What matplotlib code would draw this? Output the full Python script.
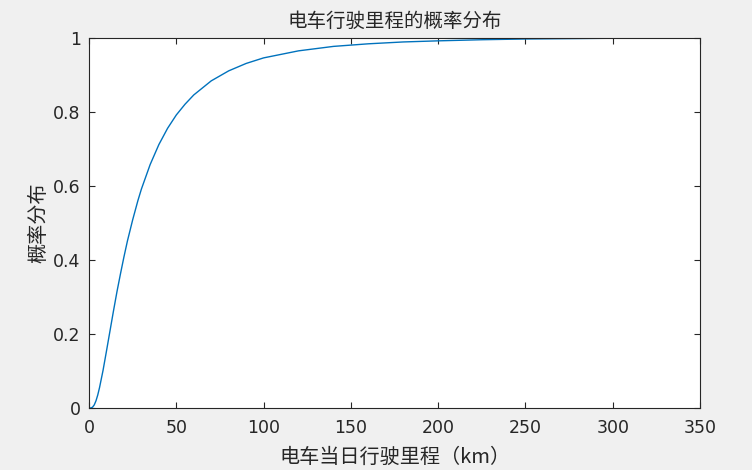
import matplotlib.pyplot as plt
import matplotlib.ticker as ticker

# daily driving distance (km) and cumulative probability
distance_km = [0, 1, 2, 3, 4, 5, 6, 8, 10, 12, 14, 16, 18, 20, 22, 25, 28, 30,
               35, 40, 45, 50, 55, 60, 70, 80, 90, 100, 120, 140, 160, 180,
               200, 225, 250, 275, 300, 325, 350]
probability = [0.0, 0.0001, 0.0022, 0.0085, 0.0197, 0.0353, 0.0548, 0.101,
               0.154, 0.208, 0.262, 0.314, 0.362, 0.408, 0.451, 0.508, 0.560,
               0.591, 0.657, 0.711, 0.755, 0.791, 0.820, 0.845, 0.883, 0.910,
               0.930, 0.945, 0.964, 0.976, 0.983, 0.988, 0.991, 0.994, 0.996,
               0.997, 0.998, 0.9985, 0.9987]

x_ticks = [0, 50, 100, 150, 200, 250, 300, 350]
y_ticks = [0, 0.2, 0.4, 0.6, 0.8, 1]

title = "电车行驶里程的概率分布"
x_label = "电车当日行驶里程（km）"
y_label = "概率分布"

cjk = ["Noto Sans CJK SC", "DejaVu Sans"]
text_color = "#262626"

fig = plt.figure(figsize=(7.52, 4.70), dpi=100, facecolor="#f0f0f0")
ax = fig.add_axes([0.1184, 0.1319, 0.8125, 0.7883])
ax.set_facecolor("white")

ax.plot(distance_km, probability, color="#0072BD", linewidth=1.0)

ax.set_xlim(0, 350)
ax.set_ylim(0, 1)
ax.set_xticks(x_ticks)
ax.set_yticks(y_ticks)
ax.yaxis.set_major_formatter(ticker.FuncFormatter(lambda v, p: "%g" % v))

ax.tick_params(direction="in", length=4, width=0.8, colors=text_color,
               top=True, right=True, labelsize=12.5)
ax.tick_params(axis="x", pad=8)
ax.tick_params(axis="y", pad=6)
for lab in ax.get_xticklabels() + ax.get_yticklabels():
    lab.set_fontfamily("DejaVu Sans")
for s in ax.spines.values():
    s.set_color(text_color)
    s.set_linewidth(0.8)

ax.set_title(title, family=cjk, fontsize=14, color=text_color, pad=8)
ax.set_xlabel(x_label, family=cjk, fontsize=14.5, color=text_color, labelpad=7)
ax.set_ylabel(y_label, family=cjk, fontsize=14.5, color=text_color, labelpad=3)

fig.savefig("out.png", dpi=100, facecolor=fig.get_facecolor())
